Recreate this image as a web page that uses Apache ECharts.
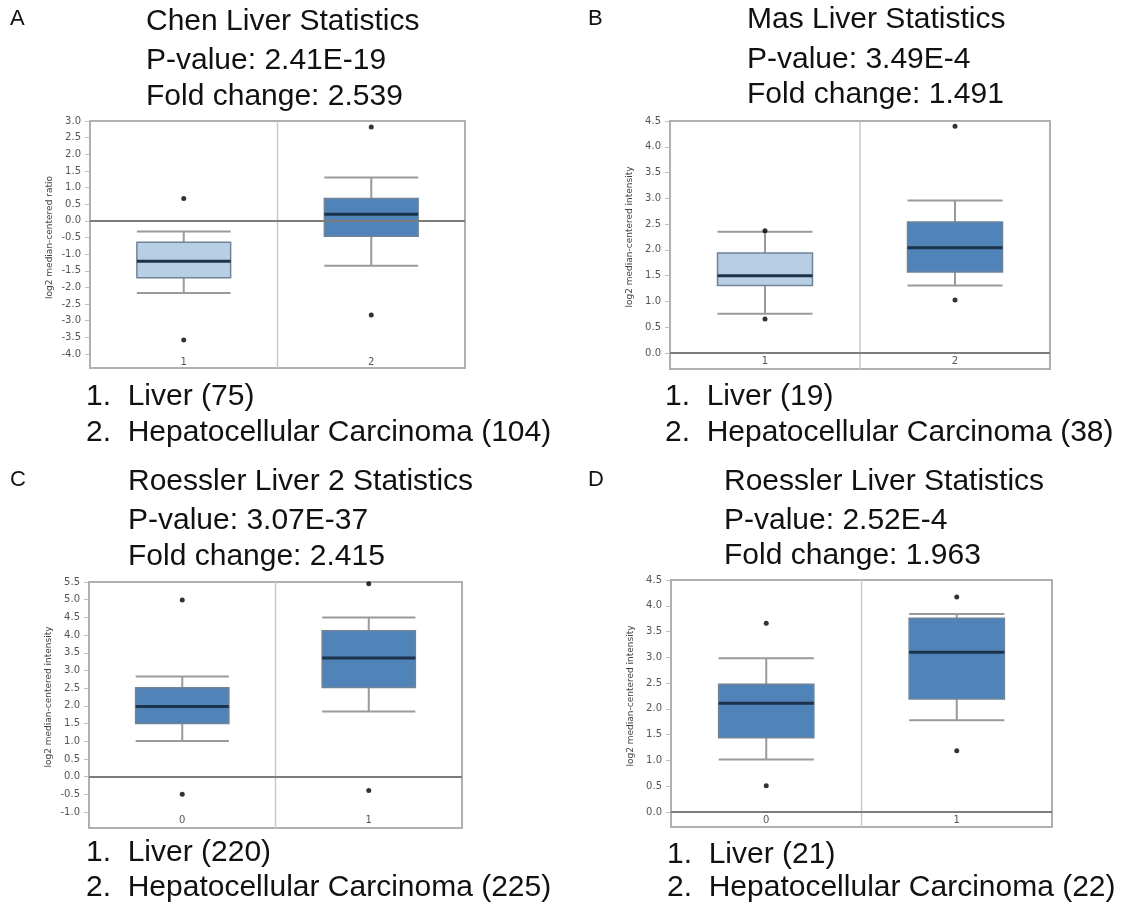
<!DOCTYPE html>
<html><head><meta charset="utf-8">
<script src="https://cdn.jsdelivr.net/npm/echarts@6/dist/echarts.min.js"></script>
<style>html,body{margin:0;padding:0;background:#fff}#c{width:1133px;height:905px}</style>
</head><body><div id="c"></div>
<script>
// ---- data ----
const catsA = ['1', '2'];
const catsB = ['1', '2'];
const catsC = ['0', '1'];
const catsD = ['0', '1'];
// [lower whisker, Q1, median, Q3, upper whisker]
const boxA = [[-2.17, -1.71, -1.21, -0.64, -0.32], [-1.35, -0.46, 0.20, 0.67, 1.30]];
const boxB = [[0.76, 1.31, 1.50, 1.94, 2.35], [1.31, 1.57, 2.04, 2.54, 2.96]];
const boxC = [[1.01, 1.50, 1.98, 2.51, 2.83], [1.84, 2.52, 3.35, 4.12, 4.50]];
const boxD = [[1.02, 1.44, 2.11, 2.48, 2.98], [1.78, 2.19, 3.10, 3.76, 3.84]];
const outA = [[0, 0.67], [0, -3.58], [1, 2.82], [1, -2.83]];
const outB = [[0, 2.37], [0, 0.66], [1, 4.40], [1, 1.03]];
const outC = [[0, 4.99], [0, -0.50], [1, 5.45], [1, -0.39]];
const outD = [[0, 3.66], [0, 0.51], [1, 4.17], [1, 1.19]];
const yRangeA = [-4, 3];
const yRangeB = [0, 4.5];
const yRangeC = [-1, 5.5];
const yRangeD = [0, 4.5];
const yNameA = 'log2 median-centered ratio';
const yNameB = 'log2 median-centered intensity';
const yNameC = 'log2 median-centered intensity';
const yNameD = 'log2 median-centered intensity';
const titlesA = ['Chen Liver Statistics', 'P-value: 2.41E-19', 'Fold change: 2.539'];
const titlesB = ['Mas Liver Statistics', 'P-value: 3.49E-4', 'Fold change: 1.491'];
const titlesC = ['Roessler Liver 2 Statistics', 'P-value: 3.07E-37', 'Fold change: 2.415'];
const titlesD = ['Roessler Liver Statistics', 'P-value: 2.52E-4', 'Fold change: 1.963'];
const legendA = ['1.  Liver (75)', '2.  Hepatocellular Carcinoma (104)'];
const legendB = ['1.  Liver (19)', '2.  Hepatocellular Carcinoma (38)'];
const legendC = ['1.  Liver (220)', '2.  Hepatocellular Carcinoma (225)'];
const legendD = ['1.  Liver (21)', '2.  Hepatocellular Carcinoma (22)'];
const panelLetters = ['A', 'B', 'C', 'D'];

// ---- layout / style ----
const LIGHT = '#b8cee4', DARK = '#5083b8';
const panels = [
  {cats: catsA, box: boxA, out: outA, yr: yRangeA, yName: yNameA, titles: titlesA, legend: legendA, fills: [LIGHT, DARK],
   grid: {left: 90, top: 121, width: 375, height: 233}, frameBottom: 368, letter: [10, 19], titleX: 146, titleY: [22, 61, 97], legX: 86, legY: [397, 433]},
  {cats: catsB, box: boxB, out: outB, yr: yRangeB, yName: yNameB, titles: titlesB, legend: legendB, fills: [LIGHT, DARK],
   grid: {left: 670, top: 121, width: 380, height: 232}, frameBottom: 369, letter: [588, 19], titleX: 747, titleY: [20, 60, 95], legX: 665, legY: [397, 433]},
  {cats: catsC, box: boxC, out: outC, yr: yRangeC, yName: yNameC, titles: titlesC, legend: legendC, fills: [DARK, DARK],
   grid: {left: 89, top: 582, width: 373, height: 230}, frameBottom: 828, letter: [10, 480], titleX: 128, titleY: [482, 521, 557], legX: 86, legY: [853, 888]},
  {cats: catsD, box: boxD, out: outD, yr: yRangeD, yName: yNameD, titles: titlesD, legend: legendD, fills: [DARK, DARK],
   grid: {left: 671, top: 580, width: 381, height: 232}, frameBottom: 827, letter: [588, 480], titleX: 724, titleY: [482, 521, 556], legX: 667, legY: [855, 888]}
];

function renderBox(params, api) {
  const x = api.value(0);
  const pMin = api.coord([x, api.value(1)]);
  const pQ1 = api.coord([x, api.value(2)]);
  const pMed = api.coord([x, api.value(3)]);
  const pQ3 = api.coord([x, api.value(4)]);
  const pMax = api.coord([x, api.value(5)]);
  const bw = api.size([1, 0])[0] * 0.5;
  const cx = pMed[0], l = cx - bw / 2, r = cx + bw / 2;
  const wStyle = {stroke: '#9a9a9a', lineWidth: 2};
  return {type: 'group', children: [
    {type: 'line', shape: {x1: cx, y1: pMax[1], x2: cx, y2: pQ3[1]}, style: wStyle},
    {type: 'line', shape: {x1: cx, y1: pQ1[1], x2: cx, y2: pMin[1]}, style: wStyle},
    {type: 'line', shape: {x1: l, y1: pMax[1], x2: r, y2: pMax[1]}, style: wStyle},
    {type: 'line', shape: {x1: l, y1: pMin[1], x2: r, y2: pMin[1]}, style: wStyle},
    {type: 'rect', shape: {x: l, y: pQ3[1], width: bw, height: pQ1[1] - pQ3[1]},
     style: {fill: api.visual('color'), stroke: '#6f8499', lineWidth: 1.5}},
    {type: 'line', shape: {x1: l, y1: pMed[1], x2: r, y2: pMed[1]}, style: {stroke: '#1d324b', lineWidth: 3}}
  ]};
}

const grids = [], xAxes = [], yAxes = [], series = [], graphics = [];
const FONT = '"Liberation Sans", Arial, sans-serif';
panels.forEach((p, i) => {
  grids.push(Object.assign({}, p.grid));
  xAxes.push({type: 'category', gridIndex: i, data: p.cats, boundaryGap: true,
    axisLine: {show: true, lineStyle: {color: '#d4d4d4', width: 1.5}},
    axisTick: {show: false}, splitLine: {show: false},
    axisLabel: {color: '#555', fontSize: 10, fontFamily: 'DejaVu Sans', margin: 3}});
  yAxes.push({type: 'value', gridIndex: i, min: p.yr[0], max: p.yr[1], interval: 0.5,
    axisLine: {show: true, lineStyle: {color: '#b0b0b0', width: 2}},
    axisTick: {show: true, length: 5, lineStyle: {color: '#c0c0c0'}},
    splitLine: {show: false},
    axisLabel: {color: '#555', fontSize: 10, fontFamily: 'DejaVu Sans', margin: 9, formatter: v => v.toFixed(1)},
    name: p.yName, nameLocation: 'middle', nameGap: 36,
    nameTextStyle: {color: '#444', fontSize: 9, fontFamily: 'DejaVu Sans'}});
  series.push({type: 'custom', xAxisIndex: i, yAxisIndex: i, renderItem: renderBox,
    encode: {x: 0, y: [1, 2, 3, 4, 5]},
    data: p.box.map((b, k) => ({value: [k].concat(b), itemStyle: {color: p.fills[k]}})), z: 3});
  series.push({type: 'scatter', xAxisIndex: i, yAxisIndex: i, data: p.out, symbolSize: 5,
    itemStyle: {color: '#000'}, z: 4, silent: true,
    markLine: {silent: true, symbol: 'none', label: {show: false},
      lineStyle: {color: '#7c7c7c', width: 2, type: 'solid'}, data: [{yAxis: 0}]}});
  const g = p.grid;
  graphics.push({type: 'rect', shape: {x: g.left, y: g.top, width: g.width, height: p.frameBottom - g.top},
    style: {fill: 'none', stroke: '#b0b0b0', lineWidth: 2}, z: 1});
  graphics.push({type: 'line', shape: {x1: g.left + g.width / 2, y1: g.top, x2: g.left + g.width / 2, y2: p.frameBottom},
    style: {stroke: '#c8c8c8', lineWidth: 1.5}, z: 1});
  graphics.push({type: 'text', x: p.letter[0], y: p.letter[1],
    style: {text: panelLetters[i], font: '22px ' + FONT, fill: '#111', verticalAlign: 'middle'}});
  p.titles.forEach((t, k) => graphics.push({type: 'text', x: p.titleX, y: p.titleY[k],
    style: {text: t, font: '30px ' + FONT, fill: '#111', verticalAlign: 'middle'}}));
  p.legend.forEach((t, k) => graphics.push({type: 'text', x: p.legX, y: p.legY[k],
    style: {text: t, font: '30px ' + FONT, fill: '#111', verticalAlign: 'middle'}}));
});

const chart = echarts.init(document.getElementById('c'), null, {renderer: 'canvas'});
chart.setOption({
  animation: false, backgroundColor: '#fff',
  grid: grids, xAxis: xAxes, yAxis: yAxes, series: series, graphic: graphics
});
</script></body></html>
